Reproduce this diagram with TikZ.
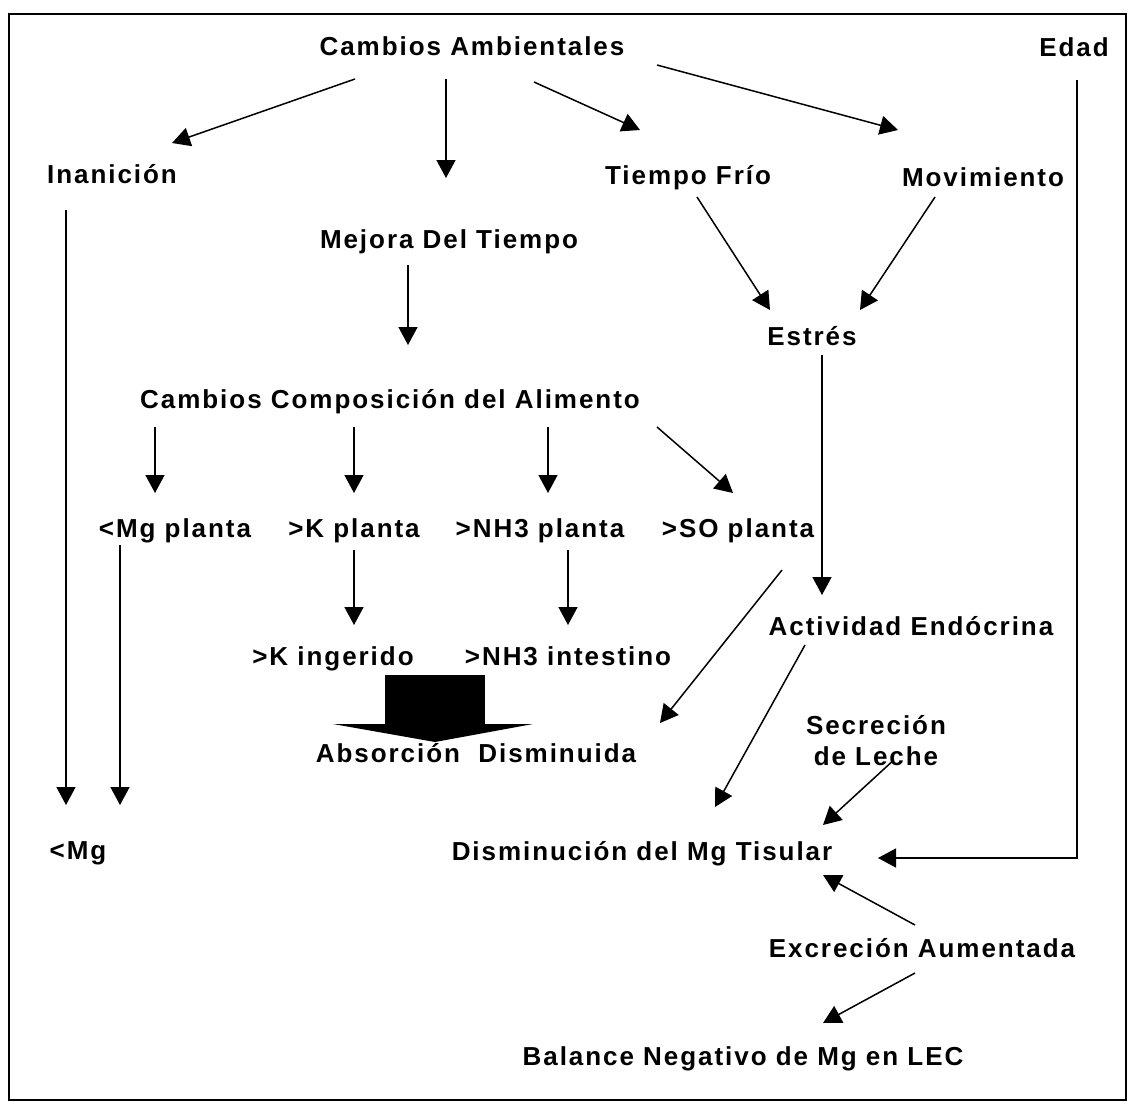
\documentclass[tikz,border=0pt]{standalone}
\usepackage{fontspec}
\setmainfont{Liberation Sans}[LetterSpace=7.5]
\usetikzlibrary{arrows.meta}

\begin{document}
\begin{tikzpicture}[x=1pt,y=-1pt, lab/.style={anchor=base, inner sep=0pt,
		font=\fontsize{26}{31}\selectfont\bfseries}, arr/.style={line width=1.5pt,
		-{Triangle[length=18pt,width=19pt]}}]
	\useasboundingbox (0,0) rectangle (1127,1101);
	\draw[line width=1.5pt] (9,14) rectangle (1126,1100);
	% labels
	\node [lab] (ca) at (472,55) {Cambios Ambientales};
	\node [lab] (edad) at (1074,56) {Edad};
	\node [lab] (inan) at (112,183) {Inanición};
	\node [lab] (frio) at (688,184) {Tiempo Frío};
	\node [lab] (mov) at (983,186) {Movimiento};
	\node [lab] (mejora) at (449,248) {Mejora Del Tiempo};
	\node [lab] (estres) at (812,345) {Estrés};
	\node [lab] (comp) at (390,408) {Cambios Composición del Alimento};
	\node [lab] (mgp) at (175,537) {<Mg planta};
	\node [lab] (kp) at (354,537) {>K planta};
	\node [lab] (nhp) at (540,537) {>NH3 planta};
	\node [lab] (sop) at (738,537) {>SO planta};
	\node [lab] (endo) at (911,635) {Actividad Endócrina};
	\node [lab] (king) at (333,665) {>K ingerido};
	\node [lab] (nhi) at (568,665) {>NH3 intestino};
	\node [lab] (abs) at (476,762) {Absorción\ \ Disminuida};
	\node [lab, anchor=north, align=center] (sec) at (876,715) {Secreción\\de Leche};
	\node [lab] (mg) at (78,859) {<Mg};
	\node [lab] (tis) at (642,860) {Disminución del Mg Tisular};
	\node [lab] (exc) at (922,957) {Excreción Aumentada};
	\node [lab] (bal) at (743,1065) {Balance Negativo de Mg en LEC};
	% block arrow
	\fill (385,675) rectangle (485,725);
	\fill (333,724) -- (533,724) -- (435,742) -- cycle;
	% connectors
	\draw[arr] ([shift={(-117,24)}]ca.base) -- ([shift={(60,-40)}]inan.base);
	\draw[arr] ([shift={(-26,24)}]ca.base) -- ([shift={(-3,-70)}]mejora.base);
	\draw[arr] ([shift={(62,27)}]ca.base) -- ([shift={(-48,-54)}]frio.base);
	\draw[arr] ([shift={(185,10)}]ca.base) -- ([shift={(-85,-56)}]mov.base);
	\draw[arr] ([shift={(3,24)}]edad.base) |- ([shift={(236,-2)}]tis.base);
	\draw[arr] ([shift={(-46,27)}]inan.base) -- ([shift={(-12,-54)}]mg.base);
	\draw[arr] ([shift={(-55,8)}]mgp.base) -- ([shift={(42,-54)}]mg.base);
	\draw[arr] ([shift={(-41,17)}]mejora.base) -- ([shift={(18,-63)}]comp.base);
	\draw[arr] ([shift={(9,13)}]frio.base) -- ([shift={(-42,-35)}]estres.base);
	\draw[arr] ([shift={(-48,11)}]mov.base) -- ([shift={(48,-35)}]estres.base);
	\draw[arr] ([shift={(10,10)}]estres.base) -- ([shift={(-89,-40)}]endo.base);
	\draw[arr] ([shift={(-235,19)}]comp.base) -- ([shift={(-20,-44)}]mgp.base);
	\draw[arr] ([shift={(-36,19)}]comp.base) -- ([shift={(0,-44)}]kp.base);
	\draw[arr] ([shift={(158,19)}]comp.base) -- ([shift={(8,-44)}]nhp.base);
	\draw[arr] ([shift={(267,19)}]comp.base) -- ([shift={(-5,-44)}]sop.base);
	\draw[arr] ([shift={(0,13)}]kp.base) -- ([shift={(21,-40)}]king.base);
	\draw[arr] ([shift={(28,13)}]nhp.base) -- ([shift={(0,-40)}]nhi.base);
	\draw[arr] ([shift={(44,33)}]sop.base) -- ([shift={(184,-39)}]abs.base);
	\draw[arr] ([shift={(-106,10)}]endo.base) -- ([shift={(73,-53)}]tis.base);
	\draw[arr] ([shift={(17,-5)}]sec.south) -- ([shift={(181,-35)}]tis.base);
	\draw[arr] ([shift={(-7,-32)}]exc.base) -- ([shift={(181,15)}]tis.base);
	\draw[arr] ([shift={(-7,16)}]exc.base) -- ([shift={(80,-42)}]bal.base);
\end{tikzpicture}
\end{document}
